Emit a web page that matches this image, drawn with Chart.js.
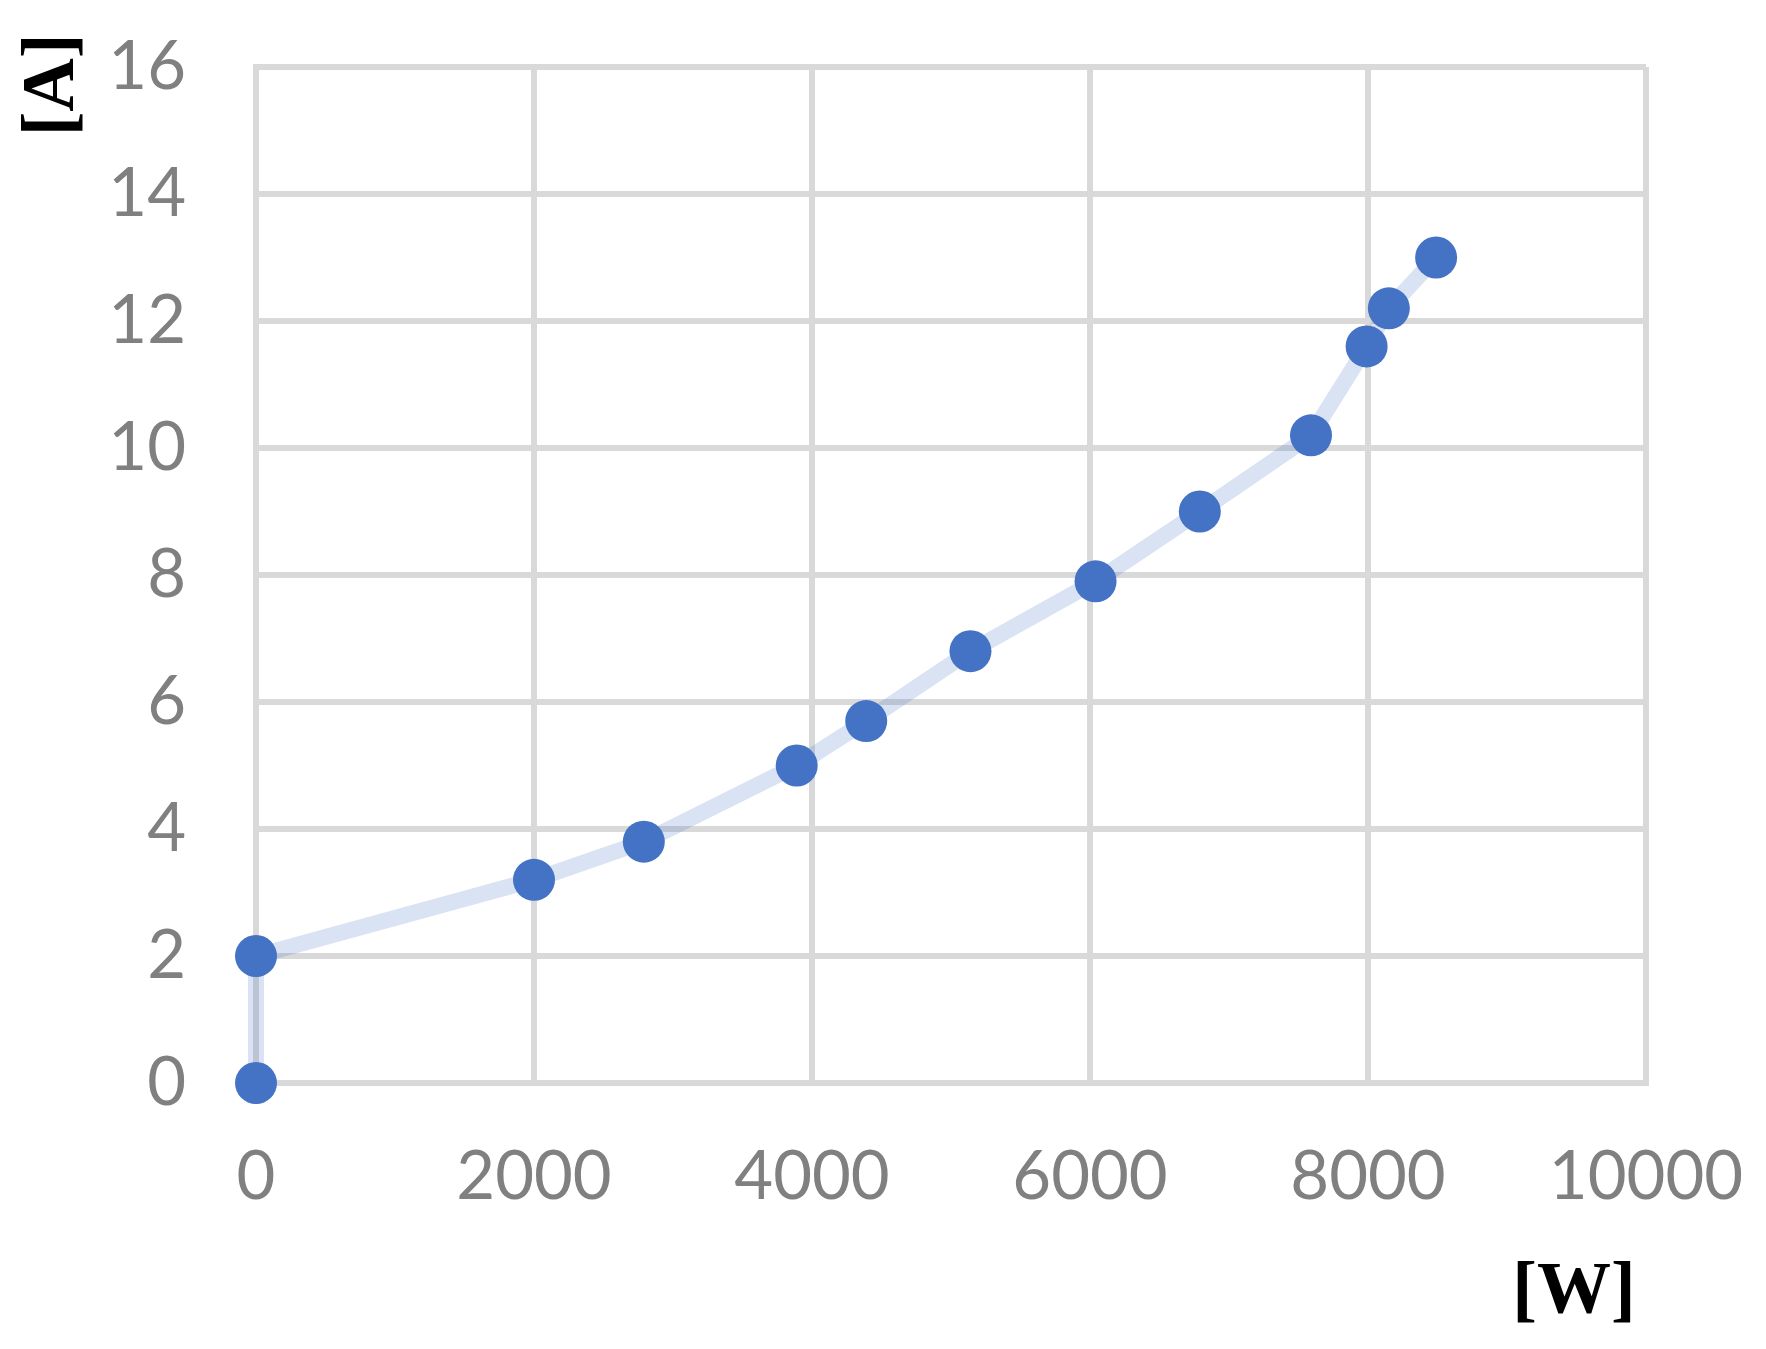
<!DOCTYPE html>
<html>
<head>
<meta charset="utf-8">
<script src="https://cdn.jsdelivr.net/npm/chart.js@4.4.1/dist/chart.umd.min.js"></script>
<style>
  html, body { margin: 0; padding: 0; background: #ffffff; }
  #wrap { width: 1766px; height: 1349px; }
</style>
</head>
<body>
<div id="wrap"><canvas id="chart" width="1766" height="1349"></canvas></div>
<script>
// Power [W] vs current [A]
const powerW = [0, 0, 2000, 2790, 3890, 4390, 5140, 6040, 6790, 7590, 7990, 8150, 8490];
const currentA = [0, 2.0, 3.2, 3.8, 5.0, 5.7, 6.8, 7.9, 9.0, 10.2, 11.6, 12.2, 13.0];

const xTitle = '[W]';
const yTitle = '[A]';

const gridColor = '#d9d9d9';
const tickColor = '#808080';
const tickFont = { family: 'Lato', size: 67 };

// axis titles sit at the top-left and bottom-right, like the original
const axisTitles = {
    id: 'axisTitles',
    afterDraw(chart) {
        const { ctx } = chart;
        ctx.save();
        ctx.fillStyle = '#000000';
        ctx.font = 'bold 74px "Liberation Serif"';
        ctx.textAlign = 'center';
        ctx.textBaseline = 'middle';
        ctx.fillText(xTitle, 1574, 1294);
        ctx.translate(54, 85);
        ctx.rotate(-Math.PI / 2);
        ctx.fillText(yTitle, 0, 0);
        ctx.restore();
    }
};

new Chart(document.getElementById('chart'), {
    type: 'scatter',
    data: {
        datasets: [{
            data: powerW.map((w, i) => ({ x: w, y: currentA[i] })),
            showLine: true,
            borderColor: 'rgba(68, 114, 196, 0.2)',
            borderWidth: 16,
            pointRadius: 21,
            pointHoverRadius: 21,
            pointBackgroundColor: '#4472c4',
            pointBorderWidth: 0,
            clip: false
        }]
    },
    options: {
        responsive: false,
        animation: false,
        layout: { padding: { left: 0, top: 67, right: 120, bottom: 0 } },
        plugins: {
            legend: { display: false },
            tooltip: { enabled: false }
        },
        scales: {
            x: {
                type: 'linear',
                min: 0,
                max: 10000,
                ticks: {
                    stepSize: 2000, color: tickColor, font: tickFont, padding: 54,
                    callback: v => String(v)
                },
                grid: { color: gridColor, lineWidth: 6, drawTicks: false },
                border: { color: gridColor, width: 6 },
                afterFit(s) { s.height = 266; s.paddingLeft = 0; s.paddingRight = 0; }
            },
            y: {
                min: 0,
                max: 16,
                ticks: { stepSize: 2, color: tickColor, font: tickFont, padding: 70 },
                grid: { color: gridColor, lineWidth: 6, drawTicks: false },
                border: { color: gridColor, width: 6 },
                afterFit(s) { s.width = 256; s.paddingTop = 0; s.paddingBottom = 0; }
            }
        }
    },
    plugins: [axisTitles]
});
</script>
</body>
</html>
